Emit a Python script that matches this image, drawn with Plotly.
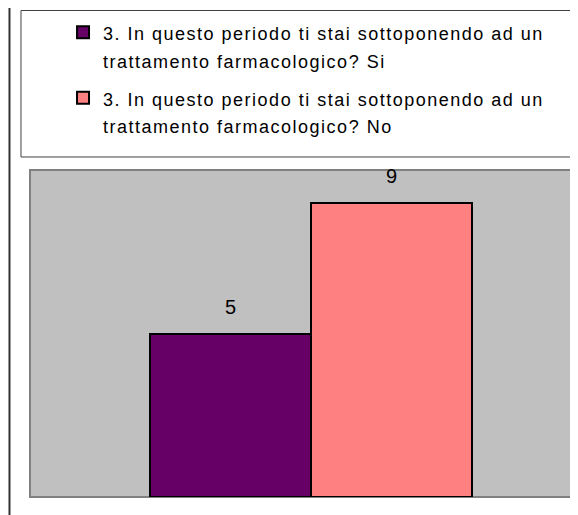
import plotly.graph_objects as go

# dati
categorie = ["Si", "No"]
valori = [5, 9]
domanda = "3. In questo periodo ti stai sottoponendo ad un<br>trattamento farmacologico?"
colori = ["#660066", "#FF8080"]


def legend_label(text):
    # righe separate, stessa spaziatura larga del riferimento
    lines = text.split("<br>")
    style = "font-size:18px;letter-spacing:1.5px"
    return "<br>".join(f"<span style='{style}'>{ln}</span>" for ln in lines)


fig = go.Figure()

for cat, val, col in zip(categorie, valori, colori):
    fig.add_trace(go.Bar(
        x=[cat],
        y=[val],
        name=legend_label(f"{domanda} {cat}"),
        legendgroup=cat,
        marker=dict(color=col, line=dict(color="black", width=2)),
        width=1,
        hoverinfo="y",
    ))
    fig.add_annotation(
        x=cat, y=val, text=str(val), showarrow=False,
        yanchor="bottom", yshift=14,
        font=dict(family="Liberation Sans, Arial", size=20, color="black"),
    )

# cornice esterna, riquadro della legenda, bordo dell'area grafico
fig.add_shape(type="rect", xref="paper", yref="paper",
              x0=-0.0369, y0=-0.2, x1=1.1, y1=1.506,
              line=dict(color="#333333", width=2), layer="below")
fig.add_shape(type="rect", xref="paper", yref="paper",
              x0=-0.0162, y0=1.0398, x1=1.1, y1=1.4878,
              line=dict(color="#404040", width=1), layer="below")
fig.add_shape(type="rect", xref="paper", yref="paper",
              x0=0, y0=0, x1=1, y1=1,
              line=dict(color="#808080", width=2), layer="below")

fig.update_layout(
    width=578, height=515,
    margin=dict(l=22, r=0, t=162, b=26),
    paper_bgcolor="white",
    plot_bgcolor="#C0C0C0",
    barmode="relative",
    bargap=0,
    font=dict(family="Liberation Sans, Arial", color="black"),
    showlegend=True,
    legend=dict(
        x=0.0594, y=1.4832, xanchor="left", yanchor="top",
        font=dict(size=21, color="black"),
        bgcolor="rgba(0,0,0,0)", borderwidth=0,
        valign="top", tracegroupgap=8,
    ),
)

fig.update_xaxes(range=[-1.2453, 2.2081], showticklabels=False, showgrid=False,
                 zeroline=False, fixedrange=True)
fig.update_yaxes(range=[0, 10], showticklabels=False, showgrid=False,
                 zeroline=False, fixedrange=True)

fig.write_html("out.html")
